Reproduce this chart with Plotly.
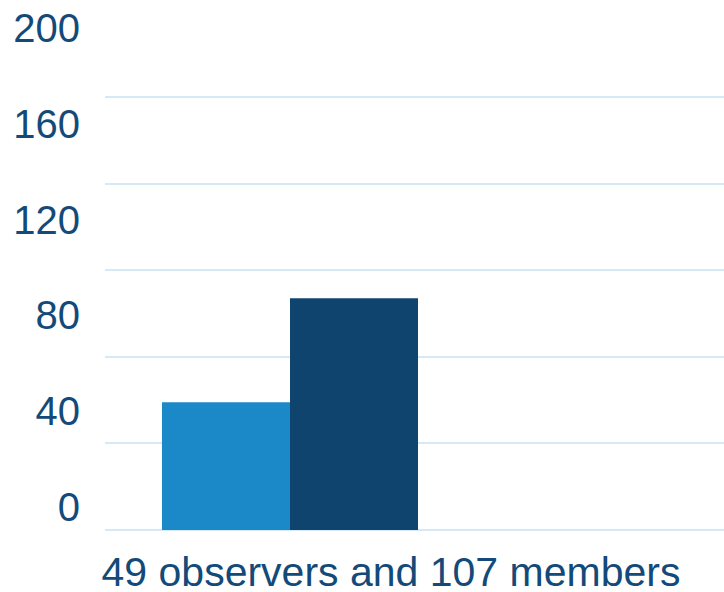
import plotly.graph_objects as go

categories = ["49 observers and 107 members"]
observers = [59]
members = [107]
tick_vals = [0, 40, 80, 120, 160, 200]
tick_text = ["0", "40", "80", "120", "160", "200"]

text_color = "#134A79"
grid_color = "#D6E9F7"
font_family = "Arial, Liberation Sans, sans-serif"

fig = go.Figure()
fig.add_trace(go.Bar(x=categories, y=observers, name="Observers",
                     marker=dict(color="#1B88C8", line=dict(width=0))))
fig.add_trace(go.Bar(x=categories, y=members, name="Members",
                     marker=dict(color="#0F446F", line=dict(width=0))))
# invisible trace to carry the label axis
fig.add_trace(go.Scatter(x=categories, y=[None], yaxis="y2", showlegend=False,
                         hoverinfo="skip"))

fig.update_layout(
    width=724, height=592,
    margin=dict(l=105, r=0, t=10, b=62, autoexpand=False),
    paper_bgcolor="white", plot_bgcolor="white",
    showlegend=False,
    barmode="group", bargap=0.308, bargroupgap=0,
    font=dict(family=font_family, size=40, color=text_color),
    xaxis=dict(range=[-0.5, 1.173], showgrid=False, showline=False, zeroline=False,
               automargin=False,
               ticks="", ticklabelshift=101, ticklabelstandoff=14,
               tickfont=dict(size=41, color=text_color)),
    yaxis=dict(range=[0, 240.2], tickvals=tick_vals, showticklabels=False,
               automargin=False,
               showgrid=True, gridcolor=grid_color, gridwidth=2,
               zeroline=True, zerolinecolor=grid_color, zerolinewidth=2,
               showline=False, ticks=""),
    yaxis2=dict(range=[-9.6, 207.5], overlaying="y", side="left",
                automargin=False,
                tickvals=tick_vals, ticktext=tick_text, showgrid=False,
                zeroline=False, showline=False, ticks="", ticklabelstandoff=24,
                tickfont=dict(size=40, color=text_color)),
    hovermode=False,
)

fig.write_html("out.html", config={"displayModeBar": False},
               post_script="document.body.style.margin='0';document.body.style.overflow='hidden';")
